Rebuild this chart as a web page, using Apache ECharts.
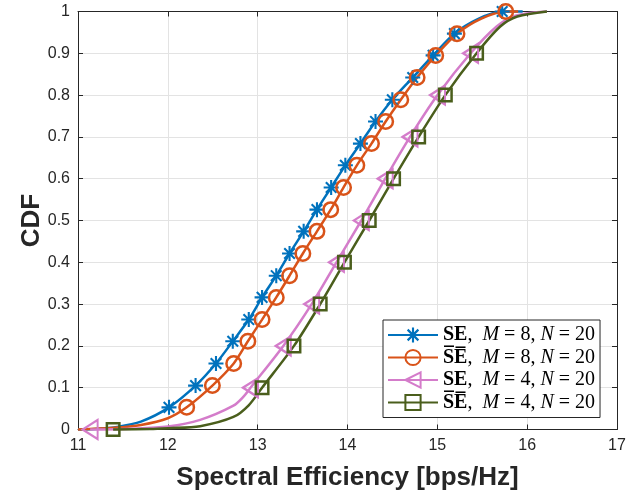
<!DOCTYPE html>
<html><head><meta charset="utf-8">
<script src="https://cdn.jsdelivr.net/npm/echarts@6/dist/echarts.min.js"></script>
<style>html,body{margin:0;padding:0;background:#fff}#c{width:632px;height:494px}</style>
</head><body><div id="c"></div>
<script>
// ---- data ----
const xTicks = [11, 12, 13, 14, 15, 16, 17];
const yTicks = [0, 0.1, 0.2, 0.3, 0.4, 0.5, 0.6, 0.7, 0.8, 0.9, 1];
const seriesNames = ['SE, M = 8, N = 20', 'S\u0305E\u0305, M = 8, N = 20', 'SE, M = 4, N = 20', 'S\u0305E\u0305, M = 4, N = 20'];

// SE, M=8 (blue stars)
const seM8MarkX = [12.013, 12.309, 12.536, 12.723, 12.901, 13.049, 13.207, 13.355, 13.512, 13.660, 13.818, 13.976, 14.144, 14.312, 14.499, 14.726, 14.953, 15.190, 15.722];
const seM8MarkY = [0.053, 0.105, 0.158, 0.211, 0.263, 0.316, 0.368, 0.421, 0.474, 0.526, 0.579, 0.632, 0.684, 0.737, 0.789, 0.842, 0.895, 0.947, 1.0];
const seM8LineX = [11.0, 11.24, 11.4, 11.7, 15.45, 15.95];
const seM8LineY = [0, 0.002, 0.005, 0.019, 0.982, 1.0];

// SE-bar, M=8 (orange circles)
const sebM8MarkX = [12.210, 12.496, 12.733, 12.891, 13.049, 13.207, 13.355, 13.503, 13.660, 13.813, 13.956, 14.104, 14.267, 14.425, 14.593, 14.775, 14.982, 15.219, 15.762];
const sebM8MarkY = [0.053, 0.105, 0.158, 0.211, 0.263, 0.316, 0.368, 0.421, 0.474, 0.526, 0.579, 0.632, 0.684, 0.737, 0.789, 0.842, 0.895, 0.947, 1.0];
const sebM8LineX = [11.0, 11.4, 11.7, 12.0, 15.49, 15.9];
const sebM8LineY = [0, 0.004, 0.011, 0.027, 0.983, 1.0];

// SE, M=4 (pink triangles)
const seM4MarkX = [11.135, 12.920, 13.285, 13.601, 13.877, 14.154, 14.420, 14.696, 15.002, 15.370];
const seM4MarkY = [0, 0.1, 0.2, 0.3, 0.4, 0.5, 0.6, 0.7, 0.8, 0.9];
const seM4LineX = [11.6, 12.0, 12.36, 12.73, 12.84, 15.66, 15.87, 16.22];
const seM4LineY = [0.002, 0.007, 0.023, 0.057, 0.078, 0.964, 0.990, 1.0];

// SE-bar, M=4 (green squares)
const sebM4MarkX = [11.391, 13.049, 13.404, 13.696, 13.966, 14.242, 14.513, 14.792, 15.089, 15.437];
const sebM4MarkY = [0, 0.1, 0.2, 0.3, 0.4, 0.5, 0.6, 0.7, 0.8, 0.9];
const sebM4LineX = [11.8, 12.0, 12.36, 12.73, 12.9, 15.70, 15.89, 16.22];
const sebM4LineY = [0.001, 0.003, 0.008, 0.030, 0.058, 0.964, 0.988, 1.0];

// ---- build ----
function build(mx, my, lx, ly) {
  const pts = [];
  mx.forEach((x, i) => pts.push({ value: [x, my[i]] }));
  lx.forEach((x, i) => pts.push({ value: [x, ly[i]], symbol: 'none' }));
  pts.sort((a, b) => a.value[0] - b.value[0]);
  return pts;
}
const starPath = 'path://M20,11.4L20,8.6L0,8.6L0,11.4Z M8.6,20L11.4,20L11.4,0L8.6,0Z M16.08,18.06L18.06,16.08L3.92,1.94L1.94,3.92Z M1.94,16.08L3.92,18.06L18.06,3.92L16.08,1.94Z';
const triPath = 'path://M0,10L17,0L17,20Z';

const C = { blue: '#0072BD', orange: '#D95319', pink: '#D47CCA', green: '#4A5E1C' };
const axisColor = '#262626';

function mkSeries(name, data, color, symbol, size, hollow, bw) {
  return {
    type: 'line', name, data, smooth: 0.3,
    symbol, symbolSize: size, showSymbol: true, showAllSymbol: true, clip: false,
    lineStyle: { color, width: 2.5 },
    itemStyle: hollow ? { color: 'rgba(255,255,255,0)', borderColor: color, borderWidth: bw } : { color, borderWidth: 0 },
    emphasis: { disabled: true }, animation: false
  };
}

const richBase = { fontFamily: 'Liberation Serif', fontSize: 20, color: '#000', lineHeight: 19 };
const legendRich = {
  b: Object.assign({}, richBase, { fontWeight: 'bold' }),
  i: Object.assign({}, richBase, { fontStyle: 'italic' }),
  n: Object.assign({}, richBase)
};
function legendFmt(name) {
  const parts = name.split(', ');
  const m = parts[1].split(' = ');
  const n = parts[2].split(' = ');
  return '{b|' + parts[0] + '}{n|,  }{i|' + m[0] + '}{n| = ' + m[1] + ', }{i|' + n[0] + '}{n| = ' + n[1] + '}';
}

const axBase = (pos, isX, primary) => ({
  type: 'value', position: pos,
  min: isX ? xTicks[0] : yTicks[0], max: isX ? xTicks[xTicks.length - 1] : yTicks[yTicks.length - 1],
  interval: isX ? 1 : 0.1,
  axisLine: { show: true, onZero: false, lineStyle: { color: axisColor, width: 1 } },
  axisTick: { show: true, inside: true, length: 5, lineStyle: { color: axisColor } },
  axisLabel: primary ? { show: true, color: axisColor, fontSize: 16, fontFamily: 'Liberation Sans', margin: 8,
    formatter: v => String(+v.toFixed(1)) } : { show: false },
  splitLine: { show: primary, lineStyle: { color: '#e3e3e3', width: 1 } }
});

const chart = echarts.init(document.getElementById('c'), null, { renderer: 'canvas' });
chart.setOption({
  animation: false,
  backgroundColor: '#fff',
  grid: { left: 78, right: 15, top: 11.5, bottom: 64.5, containLabel: false, outerBoundsMode: 'none' },
  xAxis: [
    Object.assign(axBase('bottom', true, true), {
      name: 'Spectral Efficiency [bps/Hz]', nameLocation: 'middle', nameGap: 35,
      nameTextStyle: { fontSize: 26, fontWeight: 'bold', color: axisColor, fontFamily: 'Liberation Sans' }
    }),
    axBase('top', true, false)
  ],
  yAxis: [
    Object.assign(axBase('left', false, true), {
      name: 'CDF', nameLocation: 'middle', nameGap: 33, nameMoveOverlap: false,
      nameTextStyle: { fontSize: 26, fontWeight: 'bold', color: axisColor, fontFamily: 'Liberation Sans' }
    }),
    axBase('right', false, false)
  ],
  legend: {
    orient: 'vertical', left: 383, top: 320, padding: [5, 5, 5, 4], itemGap: 2.5,
    itemWidth: 50, itemHeight: 19, backgroundColor: '#fff', borderColor: axisColor, borderWidth: 1, borderRadius: 0,
    selectedMode: false, data: seriesNames, formatter: legendFmt,
    textStyle: { rich: legendRich, fontFamily: 'Liberation Serif', fontSize: 20 }
  },
  series: [
    mkSeries(seriesNames[0], build(seM8MarkX, seM8MarkY, seM8LineX, seM8LineY), C.blue, starPath, 15, false, 0),
    mkSeries(seriesNames[1], build(sebM8MarkX, sebM8MarkY, sebM8LineX, sebM8LineY), C.orange, 'circle', 14.5, true, 2.5),
    mkSeries(seriesNames[2], build(seM4MarkX, seM4MarkY, seM4LineX, seM4LineY), C.pink, triPath, [15, 19], true, 2.2),
    mkSeries(seriesNames[3], build(sebM4MarkX, sebM4MarkY, sebM4LineX, sebM4LineY), C.green, 'rect', 12.5, true, 2.5)
  ]
});
</script></body></html>
